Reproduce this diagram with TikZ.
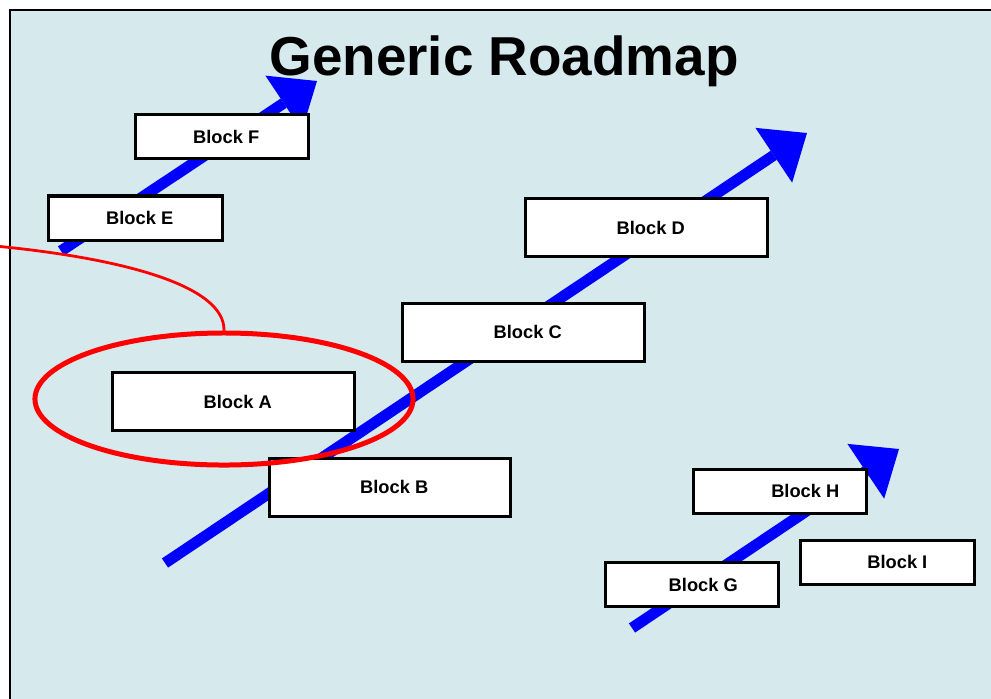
\documentclass[tikz,border=0pt]{standalone}
\usepackage{fontspec}
\setmainfont{Liberation Sans}
\usetikzlibrary{arrows.meta, positioning, shapes.geometric}
\definecolor{sky}{RGB}{214,234,238}
\tikzset{
    block/.style={draw=black, fill=white, line width=0.075cm, minimum width=4.325cm,
      minimum height=1.1cm, inner sep=0pt, font=\bfseries\fontsize{13}{15}\selectfont,
      execute at begin node=\hspace*{6pt}},
    wide/.style={minimum width=6.025cm, minimum height=1.45cm},
    road/.style={draw=blue, line width=0.275cm,
      -{Triangle[length=1cm, width=1.65cm, line width=0pt]}},
    ring/.style={draw=red, ellipse, line width=0.125cm, inner sep=0pt},
}

\begin{document}
\begin{tikzpicture}[x=0.025cm, y=-0.025cm]
    \clip (0,0) rectangle (991,698);
    \fill[sky] (10,10) rectangle (1000,710);
    \draw[line width=0.05cm] (10,710) -- (10,10) -- (1000,10);

    % roadmap arrows
    \coordinate (m0) at (165,563);
    \coordinate (m1) at (807,133);
    \coordinate (t0) at (61,251);
    \coordinate (t1) at (317,81);
    \coordinate (b0) at (632,628);
    \coordinate (b1) at (899,449);

    \draw[road] (m0) -- (m1);
    \draw[road] (t0) -- (t1);
    \draw[road] (b0) -- (b1);

    \node[font=\bfseries\fontsize{39}{45}\selectfont, anchor=base] (title) at (504,75) {Generic Roadmap};

    \node[block] (blockF) at (222,136.5) {Block F};
    \node[block] (blockE) at (135.5,218) {Block E};
    \node[block, wide] (blockD) at (646.5,227.5) {Block D};
    \node[block, wide] (blockC) at (523.5,332) {Block C};
    \node[block, wide] (blockA) at (233.5,401.5) {Block A};
    \node[block, wide] (blockB) at (390,487) {Block B};
    \node[block] (blockH) at (780,491) {\hspace*{30pt}Block H};
    \node[block] (blockI) at (887.5,562) {\hspace*{8pt}Block I};
    \node[block] (blockG) at (692,584.5) {\hspace*{10pt}Block G};

    % highlight
    \node[ring, minimum width=9.45cm, minimum height=3.3cm] (focus) at (224,399) {};
    \coordinate (lead) at (-5,246);
    \draw[red, line width=0.07cm] (lead) .. controls (120,258) and (225,285) .. (focus.north);
\end{tikzpicture}
\end{document}
